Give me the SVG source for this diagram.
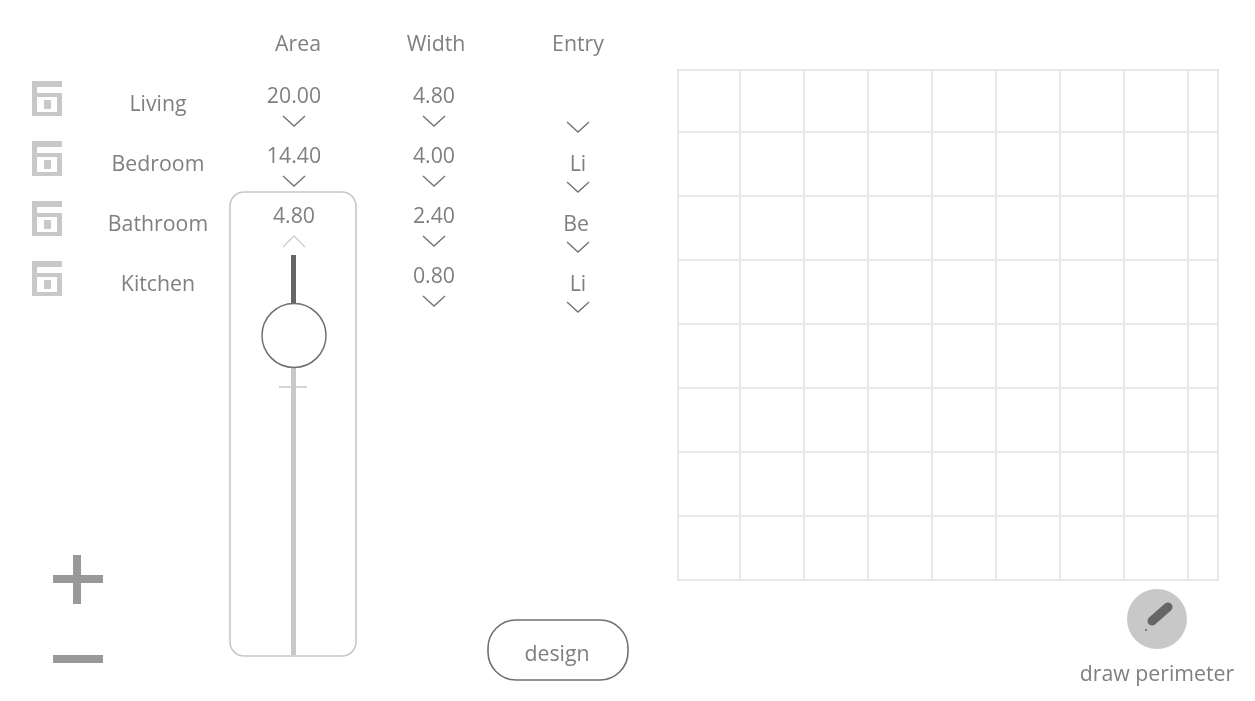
<svg xmlns="http://www.w3.org/2000/svg" width="1255" height="701" viewBox="0 0 1255 701">
<style>
text{font-family:"Open Sans","Liberation Sans",sans-serif;font-size:21.3px;fill:#808080;text-anchor:middle}
.chev{fill:none;stroke:#707070;stroke-width:1.3}
.chevu{fill:none;stroke:#ccc;stroke-width:1.3}
.grid{fill:none;stroke:#e8e8e8;stroke-width:2}
.ic{fill:#c8c8c8}
</style>
<defs>
<filter id="soft" x="0" y="0" width="1255" height="701" filterUnits="userSpaceOnUse" color-interpolation-filters="sRGB"><feGaussianBlur stdDeviation="0.5"/></filter>
<path id="ch" class="chev" d="M-11 -5L0 5L11 -5"/>
<g id="icon"><path class="ic" fill-rule="evenodd" d="M32 0H62V6H37V12H62V35H32ZM37 16V31H57V16Z"/><rect class="ic" x="44" y="19" width="7" height="9"/></g>
</defs>
<rect width="1255" height="701" fill="#fff"/>
<g filter="url(#soft)">
<g id="headers"><text x="298" y="51">Area</text><text x="436" y="51">Width</text><text x="578" y="51">Entry</text></g>
<g id="room-living"><use href="#icon" y="81"/><text x="158" y="111">Living</text></g>
<g id="room-bedroom"><use href="#icon" y="141"/><text x="158" y="171">Bedroom</text></g>
<g id="room-bathroom"><use href="#icon" y="201"/><text x="158" y="231">Bathroom</text></g>
<g id="room-kitchen"><use href="#icon" y="261"/><text x="158" y="291">Kitchen</text></g>
<g id="area-slider">
<rect x="230" y="192" width="126" height="464" rx="14" fill="#fff" stroke="#c8c8c8" stroke-width="1.6"/>
<path d="M293.500 366V655" stroke="#c8c8c8" stroke-width="5" fill="none"/>
<path d="M279 387H307" stroke="#c8c8c8" stroke-width="1.500" fill="none"/>
<path d="M293.500 255V304" stroke="#666" stroke-width="5" fill="none"/>
<circle cx="294" cy="335.500" r="32" fill="#fff" stroke="#707070" stroke-width="1.500"/>
<text x="294" y="223">4.80</text>
<path class="chevu" d="M283 247L294 236L305 247"/>
</g>
<g id="area-values">
<text x="294" y="103">20.00</text><use href="#ch" x="294" y="121"/>
<text x="294" y="163">14.40</text><use href="#ch" x="294" y="181"/>
</g>
<g id="width-values">
<text x="434" y="103">4.80</text><use href="#ch" x="434" y="121"/>
<text x="434" y="163">4.00</text><use href="#ch" x="434" y="181"/>
<text x="434" y="223">2.40</text><use href="#ch" x="434" y="241"/>
<text x="434" y="283">0.80</text><use href="#ch" x="434" y="301"/>
</g>
<g id="entry-values">
<use href="#ch" x="578" y="127"/>
<text x="578" y="171">Li</text><use href="#ch" x="578" y="187"/>
<text x="576" y="231">Be</text><use href="#ch" x="578" y="247"/>
<text x="578" y="291">Li</text><use href="#ch" x="578" y="307"/>
</g>
<g id="plus"><path d="M53 579H103M77 555V604" stroke="#999" stroke-width="8" fill="none"/></g>
<g id="minus"><path d="M53 659H103" stroke="#999" stroke-width="8" fill="none"/></g>
<g id="design"><rect x="488" y="620" width="140" height="60" rx="28" fill="#fff" stroke="#707070" stroke-width="1.600"/><text x="557" y="661">design</text></g>
<g id="grid"><path class="grid" d="M678 70H1218V580H678ZM740 70V580M804 70V580M868 70V580M932 70V580M996 70V580M1060 70V580M1124 70V580M1188 70V580M678 132H1218M678 196H1218M678 260H1218M678 324H1218M678 388H1218M678 452H1218M678 516H1218"/></g>
<g id="draw-perimeter"><circle cx="1157" cy="619" r="30" fill="#c8c8c8"/><path d="M1152 621L1168 607" stroke="#666" stroke-width="9" stroke-linecap="round" fill="none"/><circle cx="1146" cy="630" r="1" fill="#666"/><text x="1157" y="681">draw perimeter</text></g>
</g>
</svg>
